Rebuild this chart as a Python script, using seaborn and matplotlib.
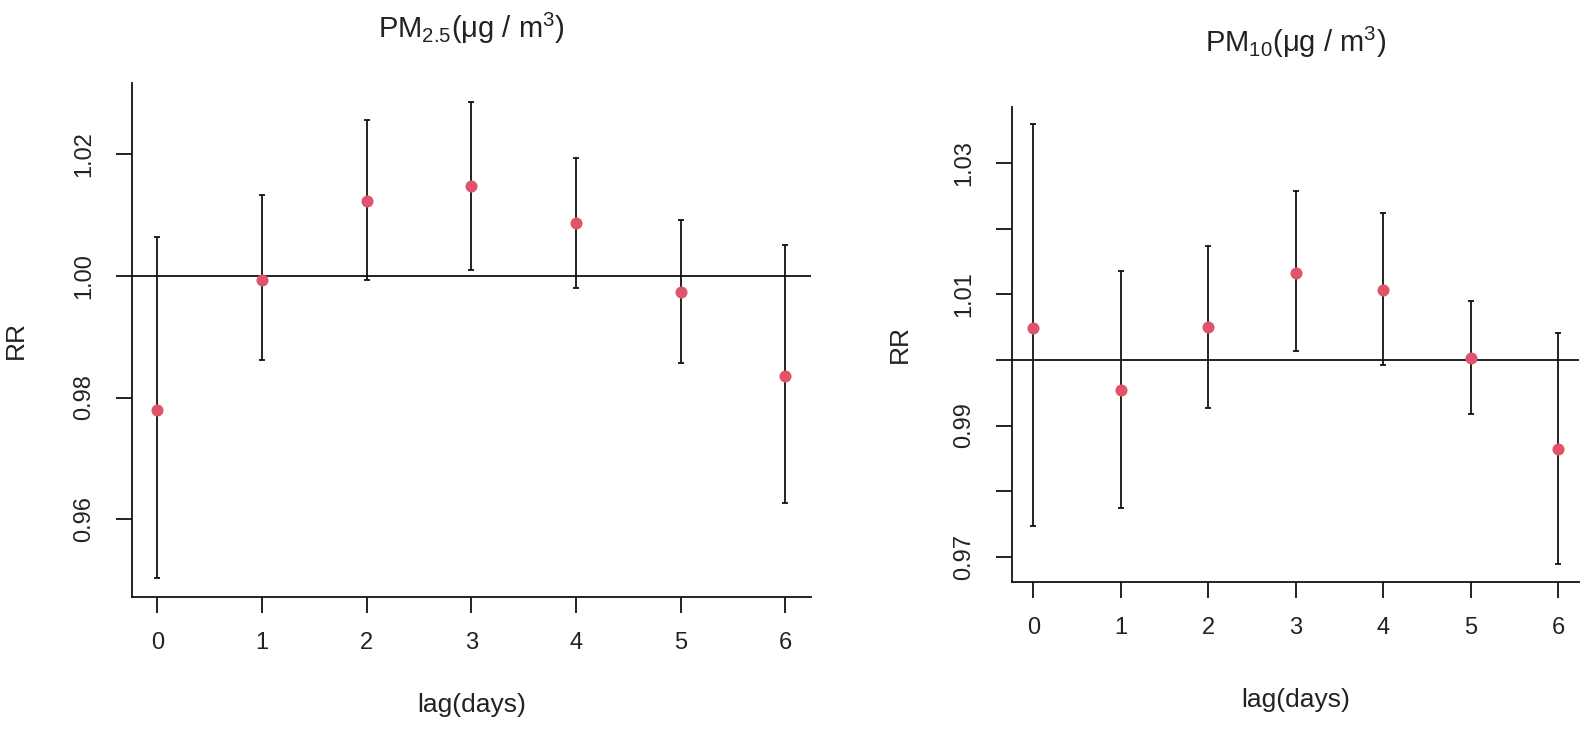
import numpy as np
import pandas as pd
import matplotlib
matplotlib.use('Agg')
import matplotlib.pyplot as plt
import seaborn as sns

# lag days and relative risk estimates (with 95% CI)
lags = [0, 1, 2, 3, 4, 5, 6]

pm25_rr = [0.9780, 0.9993, 1.0123, 1.0147, 1.0087, 0.9973, 0.9835]
pm25_lo = [0.9504, 0.9861, 0.9993, 1.0009, 0.9980, 0.9856, 0.9627]
pm25_hi = [1.0063, 1.0132, 1.0256, 1.0285, 1.0193, 1.0092, 1.0050]

pm10_rr = [1.0049, 0.9954, 1.0050, 1.0133, 1.0106, 1.0003, 0.9864]
pm10_lo = [0.9747, 0.9775, 0.9927, 1.0013, 0.9992, 0.9918, 0.9689]
pm10_hi = [1.0359, 1.0135, 1.0174, 1.0257, 1.0224, 1.0089, 1.0041]

pm25_ticks = [0.96, 0.98, 1.00, 1.02]
pm25_labels = ['0.96', '0.98', '1.00', '1.02']
pm10_ticks = [0.97, 0.98, 0.99, 1.00, 1.01, 1.02, 1.03]
pm10_labels = ['0.97', '', '0.99', '', '1.01', '', '1.03']

sns.set_style('ticks')
plt.rcParams['font.family'] = ['Liberation Sans', 'DejaVu Sans']
plt.rcParams['mathtext.fontset'] = 'custom'
plt.rcParams['mathtext.rm'] = 'Liberation Sans'
plt.rcParams['mathtext.it'] = 'Liberation Sans:italic'
plt.rcParams['mathtext.bf'] = 'Liberation Sans:bold'

TXT = '#222222'
PT = '#DF536B'

fig = plt.figure(figsize=(15.9, 7.34), dpi=100)


def panel(rect, rr, lo, hi, ticks, labels, title, title_y, xlab_y, ylab_x):
    ax = fig.add_axes(rect)
    df = pd.DataFrame({'lag': lags, 'RR': rr, 'lo': lo, 'hi': hi})
    ax.errorbar(df['lag'], df['RR'],
                yerr=[df['RR'] - df['lo'], df['hi'] - df['RR']],
                fmt='none', ecolor='#111111', elinewidth=1.3,
                capsize=2.3, capthick=1.3, zorder=2)
    sns.scatterplot(data=df, x='lag', y='RR', ax=ax, color=PT, s=75,
                    edgecolor=PT, linewidth=0, zorder=3)
    ax.axhline(1.0, color='#111111', lw=1.3, zorder=1)

    # R style 4% padding on both axes
    lo_all, hi_all = min(lo), max(hi)
    pad = 0.04 * (hi_all - lo_all)
    ax.set_ylim(lo_all - pad, hi_all + pad)
    ax.set_xlim(-0.24, 6.24)

    ax.set_xticks(lags)
    ax.set_xticklabels([str(l) for l in lags])
    ax.set_yticks(ticks)
    ax.set_yticklabels(labels, rotation=90, va='center')
    ax.tick_params(axis='both', length=11.5, width=1.3, color='#111111',
                   labelsize=17, labelcolor=TXT)
    ax.tick_params(axis='y', pad=15)
    ax.tick_params(axis='x', pad=14)

    for s in ['top', 'right']:
        ax.spines[s].set_visible(False)
    for s in ['left', 'bottom']:
        ax.spines[s].set_linewidth(1.3)
        ax.spines[s].set_color('#111111')

    ax.set_xlabel('lag(days)', fontsize=19, color=TXT)
    ax.xaxis.label.set_va('center')
    ax.xaxis.set_label_coords(0.5, xlab_y)
    ax.set_ylabel('RR', fontsize=19, color=TXT)
    ax.yaxis.label.set_va('center')
    ax.yaxis.label.set_ha('center')
    ax.yaxis.set_label_coords(ylab_x, 0.5)

    x_mid = rect[0] + rect[2] / 2
    fig.text(x_mid, title_y, title, ha='center', va='center',
             fontsize=21, color=TXT)
    return ax


panel([0.0832, 0.1871, 0.4266, 0.6994], pm25_rr, pm25_lo, pm25_hi,
      pm25_ticks, pm25_labels, r'PM$_{2.5}$(μg / m$^3$)',
      1 - 28 / 734, -0.211, -0.1715)
panel([0.6367, 0.2077, 0.3564, 0.6469], pm10_rr, pm10_lo, pm10_hi,
      pm10_ticks, pm10_labels, r'PM$_{10}$(μg / m$^3$)',
      1 - 42 / 734, -0.2496, -0.198)

fig.savefig('out.png', dpi=100)
